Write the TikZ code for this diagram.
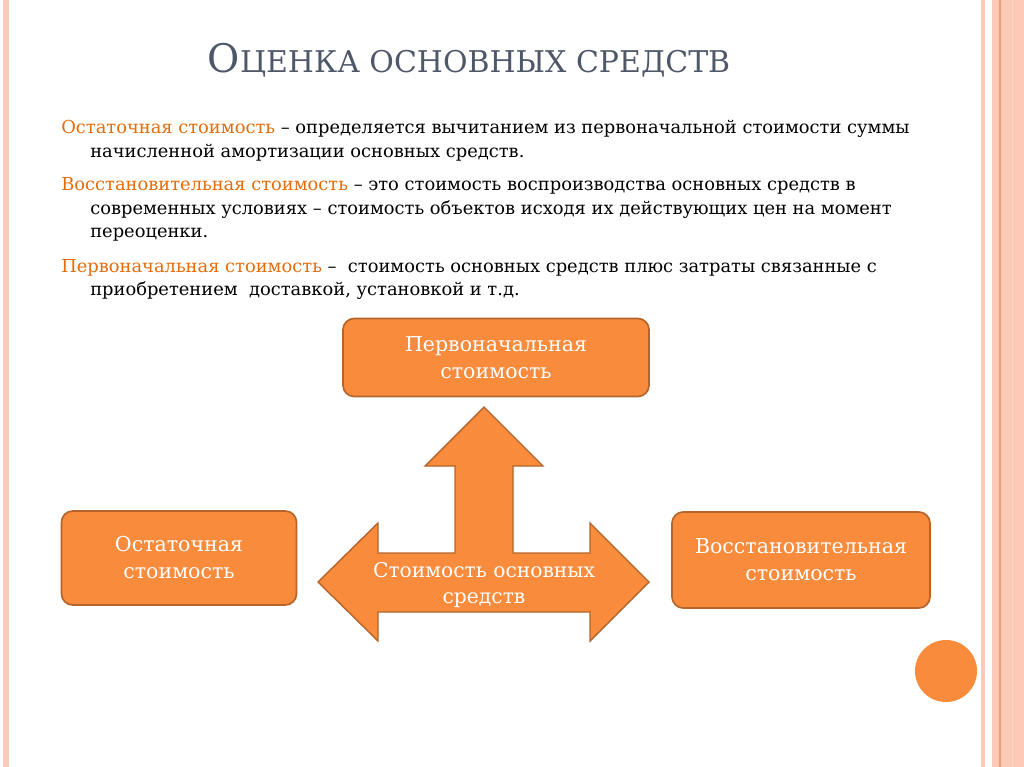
\documentclass[tikz,border=0pt]{standalone}
\usepackage{fontspec}
\setmainfont{DejaVu Serif}
\usepackage{tikz}
\usetikzlibrary{positioning,shapes.geometric}
\definecolor{slideorange}{HTML}{F98B3D}
\definecolor{boxedge}{HTML}{B5652B}
\definecolor{termorange}{HTML}{E46C0A}
\definecolor{titlegray}{HTML}{4F5868}
\definecolor{stripepink}{HTML}{FCCAB6}
\definecolor{stripeline}{HTML}{EFA070}
\newcommand{\costterm}[1]{\textcolor{termorange}{#1}}

\begin{document}
\begin{tikzpicture}[
  x=0.025cm,y=-0.025cm,
  costbox/.style={rectangle,rounded corners=8pt,draw=boxedge,line width=1.2pt,
    fill=slideorange,text=white,align=center,font=\fontsize{14.6}{19.2}\selectfont},
  body/.style={anchor=base west,inner sep=0pt,font=\fontsize{12.7}{15}\selectfont,text=black},
  heading/.style={anchor=base,inner sep=0pt,text=titlegray,font=\fontsize{21.3}{24}\selectfont},
]
  \useasboundingbox (0,0) rectangle (1024,767);
  % side stripes
  \fill[stripepink] (3,0) rectangle (9,767);
  \fill[stripepink] (981,0) rectangle (985,767);
  \fill[stripepink] (992,0) rectangle (1024,767);
  \draw[stripeline,line width=0.8pt] (1000,0) -- (1000,767);
  \draw[stripeline!40,line width=0.6pt] (1012,0) -- (1012,767);

  \node[heading] (title) at (469,73) {{\fontsize{28}{30}\selectfont О}ЦЕНКА ОСНОВНЫХ СРЕДСТВ};

  % definitions
  \node[body] (d1) at (61,134) {\costterm{Остаточная стоимость} – определяется вычитанием из первоначальной стоимости суммы};
  \node[body] (d1b) at (90,158) {начисленной амортизации основных средств.};
  \node[body] (d2) at (61,191) {\costterm{Восстановительная стоимость} – это стоимость воспроизводства основных средств в};
  \node[body] (d2b) at (90,215) {современных условиях – стоимость объектов исходя их действующих цен на момент};
  \node[body] (d2c) at (90,238) {переоценки.};
  \node[body] (d3) at (61,272) {\costterm{Первоначальная стоимость} – \ стоимость основных средств плюс затраты связанные с};
  \node[body] (d3b) at (90,295) {приобретением \ доставкой, установкой и т.д.};

  % three-way arrow
  \filldraw[fill=slideorange,draw=boxedge,line width=1pt]
    (484,407) -- (543,466) -- (513,466) -- (513,553) -- (590,553) -- (590,523)
    -- (649,582) -- (590,641) -- (590,612) -- (378,612) -- (378,641) -- (318,582)
    -- (378,523) -- (378,553) -- (455,553) -- (455,466) -- (425,466) -- cycle;
  \node[align=center,text=white,font=\fontsize{14.4}{18.5}\selectfont] (core) at (484,585) {Стоимость основных\\средств};

  \node[costbox,minimum width=7.65cm,minimum height=1.95cm] (initial) at (496,357.5) {Первоначальная\\стоимость};
  \node[costbox,minimum width=5.875cm,minimum height=2.35cm] (residual) at (179,558) {Остаточная\\стоимость};
  \node[costbox,minimum width=6.45cm,minimum height=2.4cm] (replace) at (801,560) {Восстановительная\\стоимость};

  \node[circle,fill=slideorange,minimum size=1.55cm] (dot) at (946,671) {};
\end{tikzpicture}
\end{document}
